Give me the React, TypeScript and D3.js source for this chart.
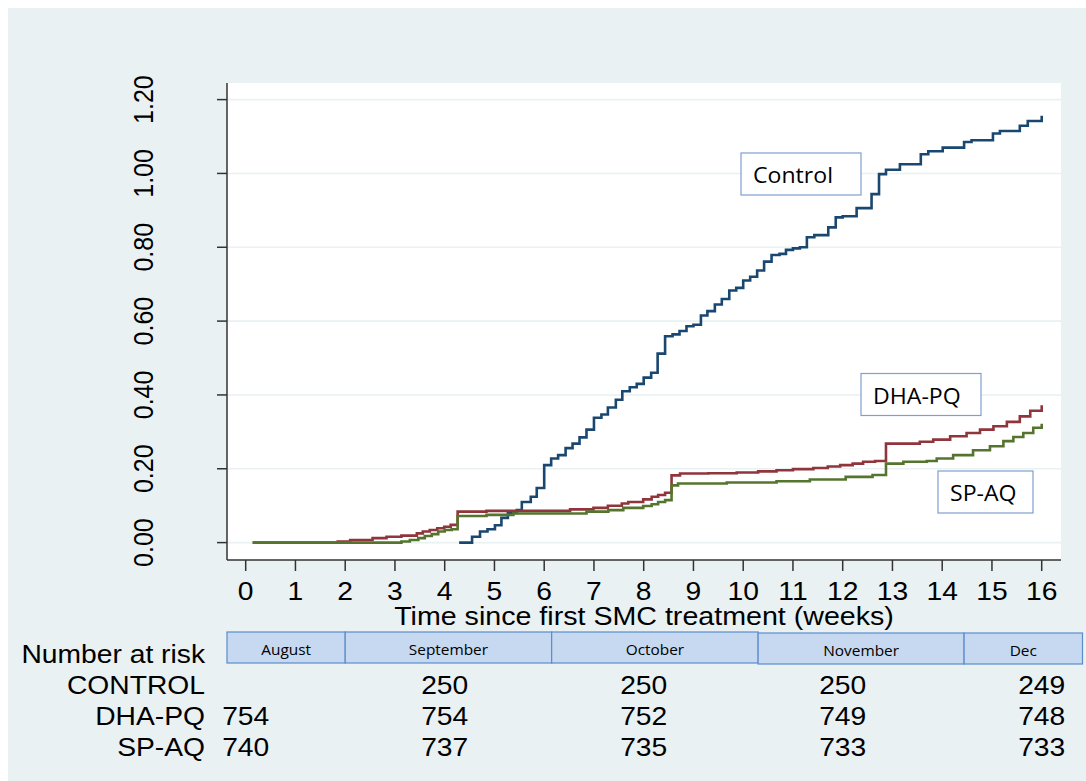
import React from "react";
import * as d3 from "d3";

// ---- data ----
const controlT = [4.29, 4.55, 4.71, 4.86, 5.01, 5.14, 5.27, 5.45, 5.55, 5.73, 5.85, 6.0, 6.14, 6.28, 6.43, 6.57, 6.71, 6.85, 7.0, 7.15, 7.28, 7.44, 7.57, 7.72, 7.86, 8.0, 8.15, 8.28, 8.43, 8.58, 8.72, 8.86, 9.0, 9.15, 9.28, 9.43, 9.57, 9.72, 9.86, 10.0, 10.14, 10.28, 10.42, 10.57, 10.73, 10.86, 11.0, 11.14, 11.28, 11.43, 11.71, 11.86, 12.0, 12.28, 12.58, 12.73, 12.87, 13.15, 13.57, 13.72, 14.01, 14.44, 14.59, 15.02, 15.16, 15.56, 15.72, 16.0];
const controlV = [0, 0.016, 0.03, 0.036, 0.047, 0.067, 0.08, 0.088, 0.11, 0.124, 0.148, 0.21, 0.228, 0.237, 0.256, 0.268, 0.285, 0.306, 0.338, 0.347, 0.366, 0.387, 0.41, 0.421, 0.43, 0.447, 0.46, 0.512, 0.559, 0.564, 0.573, 0.586, 0.59, 0.615, 0.627, 0.645, 0.66, 0.683, 0.69, 0.71, 0.72, 0.737, 0.761, 0.779, 0.782, 0.793, 0.797, 0.8, 0.827, 0.833, 0.854, 0.881, 0.884, 0.906, 0.944, 0.998, 1.01, 1.025, 1.052, 1.06, 1.07, 1.085, 1.09, 1.108, 1.115, 1.129, 1.142, 1.156];

const dhaT = [0.14, 1.85, 2.1, 2.55, 2.83, 3.13, 3.44, 3.56, 3.7, 3.85, 3.99, 4.12, 4.26, 4.84, 6.52, 6.99, 7.28, 7.56, 7.69, 7.99, 8.16, 8.29, 8.43, 8.56, 8.73, 9.3, 9.87, 10.3, 10.67, 11.0, 11.41, 11.7, 11.95, 12.2, 12.41, 12.65, 12.87, 13.55, 13.82, 14.16, 14.49, 14.76, 15.03, 15.3, 15.56, 15.77, 16.0];
const dhaV = [0, 0.003, 0.007, 0.012, 0.016, 0.019, 0.025, 0.03, 0.034, 0.039, 0.043, 0.048, 0.084, 0.086, 0.09, 0.094, 0.1, 0.106, 0.11, 0.117, 0.124, 0.129, 0.135, 0.182, 0.187, 0.188, 0.19, 0.193, 0.196, 0.199, 0.202, 0.206, 0.21, 0.214, 0.219, 0.221, 0.268, 0.273, 0.279, 0.288, 0.297, 0.306, 0.315, 0.327, 0.342, 0.357, 0.372];

const spaqT = [0.14, 3.13, 3.3, 3.47, 3.6, 3.74, 3.87, 4.0, 4.14, 4.26, 4.84, 5.38, 6.85, 7.29, 7.59, 7.99, 8.16, 8.29, 8.43, 8.56, 8.69, 9.67, 10.67, 11.34, 12.06, 12.6, 12.87, 13.22, 13.69, 13.89, 14.22, 14.62, 14.96, 15.23, 15.43, 15.63, 15.83, 16.0];
const spaqV = [0, 0.003, 0.007, 0.012, 0.018, 0.023, 0.03, 0.034, 0.036, 0.072, 0.075, 0.079, 0.084, 0.088, 0.094, 0.099, 0.104, 0.11, 0.115, 0.155, 0.16, 0.163, 0.166, 0.171, 0.178, 0.183, 0.214, 0.219, 0.221, 0.228, 0.237, 0.25, 0.261, 0.275, 0.286, 0.297, 0.311, 0.322];

const xTicks = [0, 1, 2, 3, 4, 5, 6, 7, 8, 9, 10, 11, 12, 13, 14, 15, 16];
const yTicks = [0, 0.2, 0.4, 0.6, 0.8, 1.0, 1.2];

const months = ["August", "September", "October", "November", "Dec"];
const monthStart = [-0.376, 2.0, 6.15, 10.3, 14.44];
const monthEnd = [2.0, 6.15, 10.3, 14.44, 16.82];

const riskWeeks = [0, 4, 8, 12, 16];
const riskGroups = ["CONTROL", "DHA-PQ", "SP-AQ"];
const riskControl = [null, 250, 250, 250, 249];
const riskDHA = [754, 754, 752, 749, 748];
const riskSPAQ = [740, 737, 735, 733, 733];

const seriesNames = ["Control", "DHA-PQ", "SP-AQ"];

// ---- layout ----
const W = 1086, H = 781;
const PL = 227, PR = 1061, PT = 83, PB = 560;
const SX = 1.13;
const ARIAL = "'Liberation Sans', Arial, sans-serif";
const CAL = "'Open Sans', sans-serif";
const BG = "#e9f1f3";

const x = d3.scaleLinear().domain([0, 16]).range([245.7, 245.7 + 16 * 49.75]);
const y = d3.scaleLinear().domain([0, 1.2]).range([542.6, 99.6]);

function T({ x: tx, y: ty, anchor = "start", size = 25, family = ARIAL, sx = SX, fill = "#000", children }: any) {
  return (
    <text transform={`translate(${tx},${ty}) scale(${sx},1)`} textAnchor={anchor} fontSize={size} fontFamily={family} fill={fill}>
      {children}
    </text>
  );
}

export default function App() {
  const line = d3.line<[number, number]>().x((d) => x(d[0])).y((d) => y(d[1])).curve(d3.curveStepAfter);
  const series = [
    { t: controlT, v: controlV, color: "#1a476f" },
    { t: dhaT, v: dhaV, color: "#90353b" },
    { t: spaqT, v: spaqV, color: "#55752f" },
  ];
  const legendBoxes = [
    { x0: 741, y0: 153, w: 120, h: 42 },
    { x0: 861, y0: 373.5, w: 120, h: 42 },
    { x0: 938, y0: 471, w: 95, h: 42 },
  ];
  const riskRows = [riskControl, riskDHA, riskSPAQ];
  const rowY = [694, 725, 756];

  return (
    <svg width={W} height={H} style={{ position: "absolute", left: 0, top: 0 }}>
      <rect x={8} y={8} width={W - 8} height={H - 8} fill={BG} />
      <rect x={PL} y={PT} width={PR - PL} height={PB - PT} fill="#fff" />
      {yTicks.map((t) => (
        <line key={"g" + t} x1={PL} x2={PR} y1={y(t)} y2={y(t)} stroke={BG} strokeWidth={1.6} />
      ))}
      {/* axes */}
      <line x1={PL} x2={PL} y1={PT} y2={PB} stroke="#333" strokeWidth={1.5} />
      <line x1={PL} x2={PR} y1={PB} y2={PB} stroke="#333" strokeWidth={1.5} />
      {yTicks.map((t) => (
        <g key={"yt" + t}>
          <line x1={PL - 10} x2={PL} y1={y(t)} y2={y(t)} stroke="#333" strokeWidth={1.5} />
          <text transform={`translate(153,${y(t)}) scale(1.1,1) rotate(-90)`} textAnchor="middle" fontSize={25} fontFamily={ARIAL}>
            {t.toFixed(2)}
          </text>
        </g>
      ))}
      {xTicks.map((t) => (
        <g key={"xt" + t}>
          <line x1={x(t)} x2={x(t)} y1={PB} y2={PB + 11} stroke="#333" strokeWidth={1.5} />
          <T x={x(t)} y={600} anchor="middle">{t}</T>
        </g>
      ))}
      <T x={644} y={625} anchor="middle" sx={1.145}>Time since first SMC treatment (weeks)</T>

      {/* curves */}
      {series.map((s, i) => (
        <path key={"s" + i} d={line(s.t.map((t, j) => [t, s.v[j]] as [number, number])) || ""} fill="none" stroke={s.color} strokeWidth={2.6} />
      ))}

      {/* legend labels */}
      {seriesNames.map((n, i) => {
        const b = legendBoxes[i];
        return (
          <g key={"lb" + i}>
            <rect x={b.x0} y={b.y0} width={b.w} height={b.h} fill="#fff" stroke="#7f9fd0" strokeWidth={1.2} />
            <T x={b.x0 + 12} y={b.y0 + 30} size={22} family={CAL} sx={1.05}>{n}</T>
          </g>
        );
      })}

      {/* month table */}
      {months.map((m, i) => {
        const x0 = x(monthStart[i]);
        const x1 = x(monthEnd[i]);
        const dy = i >= 3 ? 1 : 0;
        return (
          <g key={"m" + i}>
            <rect x={x0} y={632 + dy} width={x1 - x0} height={31} fill="#c6d9f0" stroke="#5b8ccc" strokeWidth={1.2} />
            <T x={(x0 + x1) / 2} y={655 + dy} anchor="middle" size={14} family={CAL} sx={1.1}>{m}</T>
          </g>
        );
      })}

      <T x={205} y={663} anchor="end">Number at risk</T>
      {riskGroups.map((g, r) => (
        <g key={"r" + r}>
          <T x={205} y={rowY[r]} anchor="end">{g}</T>
          {riskRows[r].map((v, k) =>
            v == null ? null : (
              <T key={k} x={x(riskWeeks[k])} y={rowY[r]} anchor="middle">{v}</T>
            )
          )}
        </g>
      ))}
    </svg>
  );
}
